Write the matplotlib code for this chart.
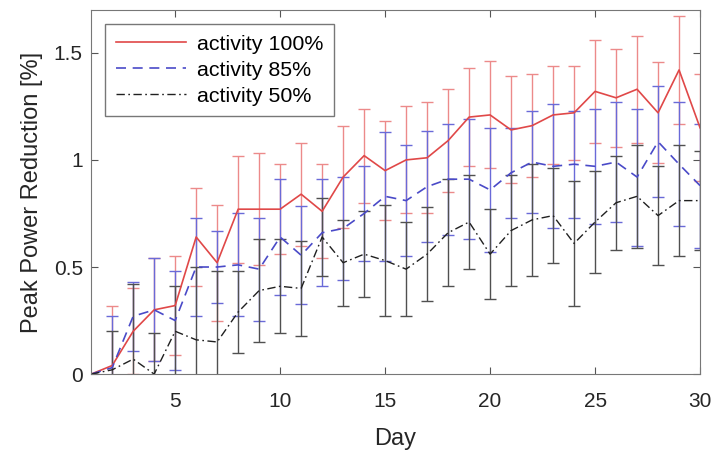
import numpy as np
import matplotlib
matplotlib.use("Agg")
import matplotlib.pyplot as plt

plt.rcParams['font.family'] = ['Liberation Sans', 'DejaVu Sans']

days = np.arange(1, 31)

# mean peak power reduction [%] and error per activity level
act100 = [0, 0.04, 0.20, 0.30, 0.32, 0.64, 0.52, 0.77, 0.77, 0.77,
          0.84, 0.76, 0.92, 1.02, 0.95, 1.00, 1.01, 1.09, 1.20, 1.21,
          1.14, 1.16, 1.21, 1.22, 1.32, 1.29, 1.33, 1.22, 1.42, 1.15]
err100 = [0, 0.28, 0.20, 0.24, 0.23, 0.23, 0.27, 0.25, 0.26, 0.21,
          0.24, 0.22, 0.24, 0.22, 0.23, 0.25, 0.26, 0.24, 0.23, 0.25,
          0.25, 0.24, 0.23, 0.22, 0.24, 0.23, 0.25, 0.235, 0.25, 0.25]

act85 = [0, 0.03, 0.27, 0.30, 0.25, 0.50, 0.50, 0.51, 0.49, 0.64,
         0.555, 0.66, 0.68, 0.75, 0.83, 0.81, 0.875, 0.91, 0.91, 0.86,
         0.94, 0.99, 0.97, 0.98, 0.97, 0.99, 0.92, 1.085, 0.98, 0.88]
err85 = [0, 0.24, 0.16, 0.24, 0.23, 0.23, 0.17, 0.24, 0.24, 0.27,
         0.23, 0.25, 0.24, 0.22, 0.30, 0.26, 0.26, 0.26, 0.28, 0.29,
         0.21, 0.24, 0.29, 0.25, 0.27, 0.28, 0.32, 0.26, 0.29, 0.29]

act50 = [0, 0.02, 0.07, 0.0, 0.20, 0.16, 0.15, 0.29, 0.39, 0.41,
         0.40, 0.64, 0.52, 0.56, 0.53, 0.49, 0.56, 0.66, 0.71, 0.56,
         0.67, 0.72, 0.74, 0.61, 0.71, 0.80, 0.83, 0.74, 0.81, 0.81]
err50 = [0, 0.18, 0.35, 0.19, 0.21, 0.34, 0.33, 0.19, 0.24, 0.22,
         0.22, 0.18, 0.20, 0.20, 0.26, 0.22, 0.22, 0.25, 0.22, 0.21,
         0.26, 0.26, 0.22, 0.29, 0.24, 0.22, 0.24, 0.23, 0.26, 0.23]

fig = plt.figure(figsize=(7.18, 4.54), dpi=100)
ax = fig.add_axes([0.127, 0.176, 0.848, 0.802])

# error bars first, lines on top
ax.errorbar(days, act100, yerr=err100, fmt='none', ecolor='#ec8a8a',
            elinewidth=1.0, capsize=4, capthick=1.0)
ax.errorbar(days, act85, yerr=err85, fmt='none', ecolor='#6a6ad8',
            elinewidth=1.0, capsize=4, capthick=1.0)
ax.errorbar(days, act50, yerr=err50, fmt='none', ecolor='#505050',
            elinewidth=1.0, capsize=4, capthick=1.0)

l1, = ax.plot(days, act100, '-', color='#e04848', lw=1.2, label='activity 100%')
l2, = ax.plot(days, act85, '--', color='#4a4ac8', lw=1.2, dashes=(6, 4),
              label='activity 85%')
l3, = ax.plot(days, act50, '-.', color='#202020', lw=1.0,
              dashes=(6, 2.5, 1.2, 2.5), label='activity 50%')

ax.set_xlim(1, 30)
ax.set_ylim(0, 1.7)
ax.set_xticks([5, 10, 15, 20, 25, 30])
ax.set_yticks([0, 0.5, 1, 1.5])
ax.set_yticklabels(['0', '0.5', '1', '1.5'])
ax.tick_params(direction='in', top=True, right=True, length=5,
               labelsize=15, color='#555555', labelcolor='#262626')
ax.tick_params(axis='x', pad=13)
ax.tick_params(axis='y', pad=6)
for s in ax.spines.values():
    s.set_color('#777777')

ax.set_xlabel('Day', fontsize=17, color='#262626', labelpad=12)
ax.set_ylabel('Peak Power Reduction [%]', fontsize=17, color='#262626',
              labelpad=8)

leg = ax.legend(handles=[l1, l2, l3], loc='upper left', fontsize=15.4,
                handlelength=3.3, handletextpad=0.5, fancybox=False,
                edgecolor='#555555', borderpad=0.5, labelspacing=0.33,
                borderaxespad=0.65)
leg.get_frame().set_linewidth(1.0)

fig.savefig('out.png', dpi=100)
